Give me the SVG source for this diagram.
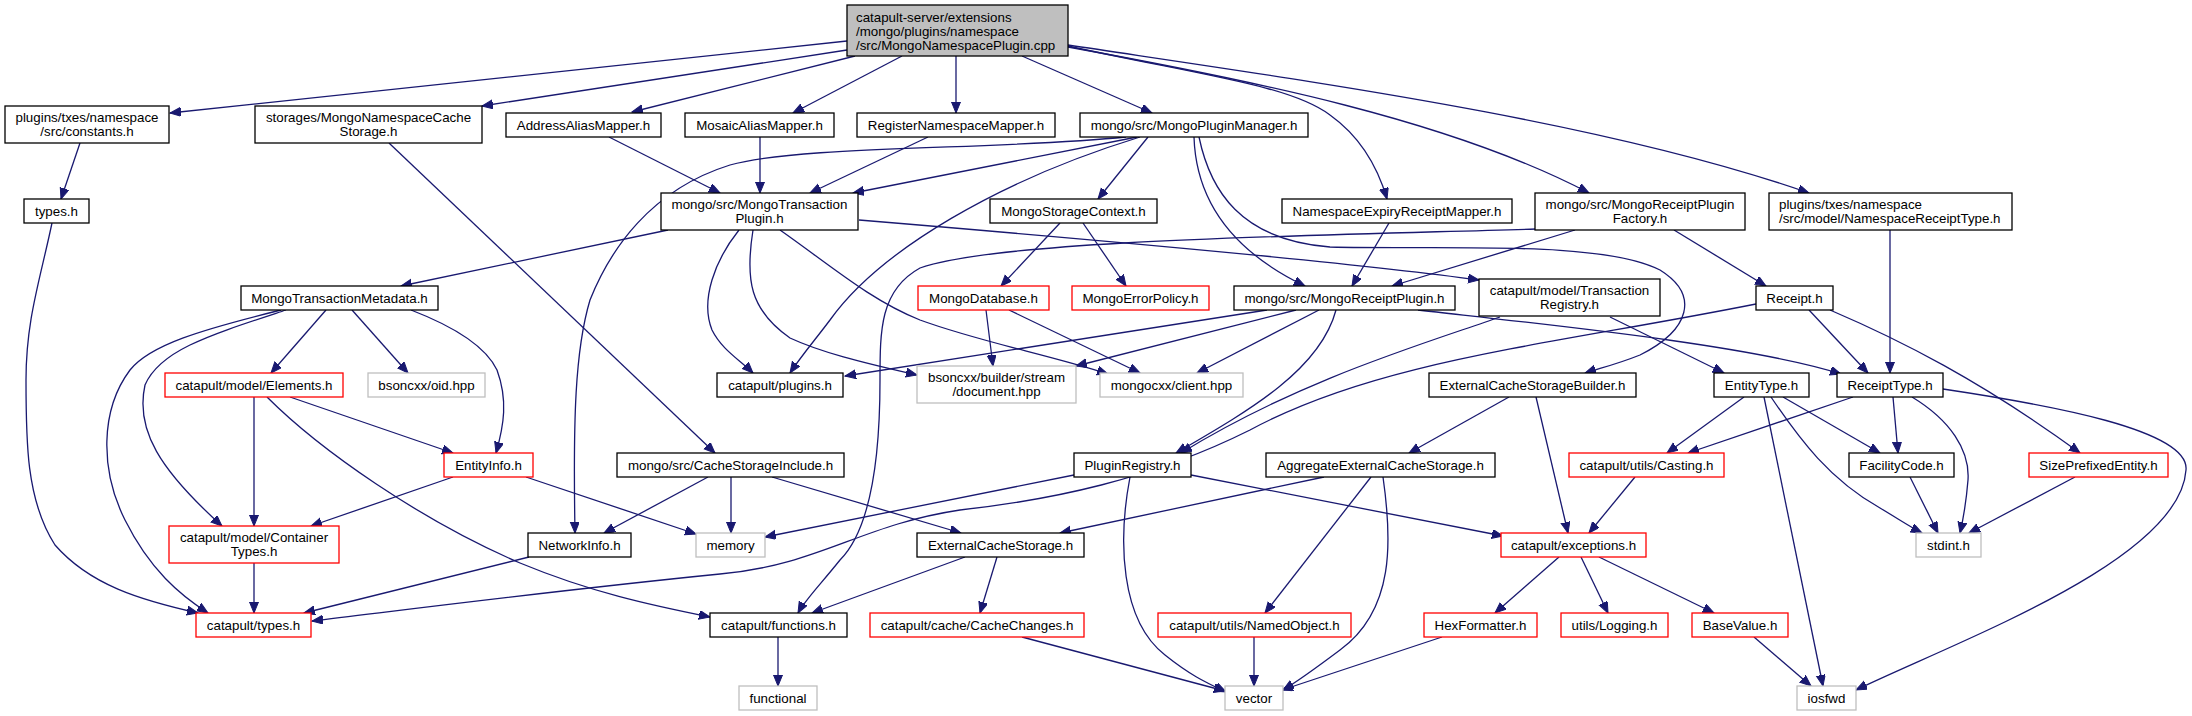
<svg xmlns="http://www.w3.org/2000/svg" width="2192" height="716" viewBox="0 0 2192 716">
<style>
.n rect{fill:#fff;stroke:#000;stroke-width:1.3}
.n.r rect{stroke:#ff0000}
.n.g rect{stroke:#bfbfbf}
.n.root rect{fill:#bfbfbf}
.n text{font-family:"Liberation Sans",Arial,sans-serif;font-size:13.33px;fill:#000;text-anchor:middle}
.n text.l{text-anchor:start}
.e path{fill:none;stroke:#191970;stroke-width:1.3;marker-end:url(#a)}
</style>
<defs>
<marker id="a" markerWidth="12" markerHeight="10" refX="11" refY="4.5" orient="auto" markerUnits="userSpaceOnUse">
<path d="M0,0 L11,4.5 L0,9 z" fill="#191970" stroke="#191970" stroke-width="1"/>
</marker>
</defs>
<rect width="2192" height="716" fill="#fff"/>
<g id="edges" class="e">
<path d="M847,41 L170,113"/>
<path d="M847,50 L482,106"/>
<path d="M855,56 L632,112"/>
<path d="M902,56 L793,113"/>
<path d="M956,56 L956,113"/>
<path d="M1022,56 L1152,113"/>
<path d="M1068,46 C1200,75 1290,85 1330,115 C1365,140 1380,175 1387,199"/>
<path d="M1068,47 C1250,80 1450,120 1589,193"/>
<path d="M1068,45 C1300,80 1600,120 1809,193"/>
<path d="M1137,137 L853,193"/>
<path d="M1126,137 C1000,150 800,145 730,165 C650,190 610,250 590,300 C575,350 573,420 575,533"/>
<path d="M1140,137 C1000,180 880,250 830,320 C815,340 802,355 790,373"/>
<path d="M1148,137 L1098,199"/>
<path d="M1194,137 C1196,200 1230,250 1305,286"/>
<path d="M1199,137 C1210,190 1240,240 1330,247 C1450,250 1600,240 1660,270 C1700,295 1690,330 1640,355 C1615,365 1600,368 1585,373"/>
<path d="M609,137 L720,193"/>
<path d="M760,137 L760,193"/>
<path d="M928,137 L810,193"/>
<path d="M668,230 L401,286"/>
<path d="M739,230 C715,260 700,300 712,330 C722,350 740,360 753,373"/>
<path d="M753,230 C745,280 750,310 790,338 C820,352 860,362 917,375"/>
<path d="M780,230 C830,265 870,300 920,320 C980,342 1050,355 1108,374"/>
<path d="M859,220 C1100,240 1350,262 1479,280"/>
<path d="M281,310 C200,330 150,345 130,370 C100,410 100,470 125,520 C150,570 180,595 208,613"/>
<path d="M286,310 C210,335 160,350 145,385 C135,430 160,470 222,526"/>
<path d="M326,310 L271,373"/>
<path d="M352,310 L408,373"/>
<path d="M411,310 C450,325 485,345 497,370 C508,400 504,425 496,453"/>
<path d="M52,223 C40,280 26,320 26,380 C26,440 26,500 55,545 C90,585 140,600 198,613"/>
<path d="M80,143 L61,199"/>
<path d="M389,143 L715,453"/>
<path d="M254,397 L254,526"/>
<path d="M290,397 L453,453"/>
<path d="M267,397 C320,450 420,520 520,563 C590,592 650,605 710,617"/>
<path d="M453,477 L311,526"/>
<path d="M526,477 L696,534"/>
<path d="M254,563 L254,613"/>
<path d="M529,557 L304,613"/>
<path d="M708,477 L604,533"/>
<path d="M731,477 L731,533"/>
<path d="M772,477 L961,533"/>
<path d="M1756,304 C1550,345 1380,360 1250,430 C1150,480 1050,500 960,510 C860,525 820,565 720,574 C560,590 420,608 312,621"/>
<path d="M1809,310 L1868,373"/>
<path d="M1830,310 C1900,340 1980,380 2080,453"/>
<path d="M1890,230 L1890,373"/>
<path d="M1536,229 C1300,236 1000,240 920,268 C880,290 880,330 880,380 C880,460 870,530 840,560 C820,585 805,600 798,613"/>
<path d="M1575,230 L1392,286"/>
<path d="M1674,230 L1766,286"/>
<path d="M1389,223 L1352,286"/>
<path d="M1060,223 L1001,286"/>
<path d="M1083,223 L1126,286"/>
<path d="M986,310 L993,366"/>
<path d="M1009,310 L1140,373"/>
<path d="M1267,310 L845,376"/>
<path d="M1296,310 L1076,366"/>
<path d="M1319,310 L1197,373"/>
<path d="M1336,310 C1320,370 1250,410 1176,453"/>
<path d="M1418,310 C1550,325 1750,345 1841,374"/>
<path d="M1500,317 C1420,345 1300,380 1181,453"/>
<path d="M1610,317 L1724,373"/>
<path d="M1509,397 L1409,453"/>
<path d="M1536,397 L1568,533"/>
<path d="M1744,397 L1667,453"/>
<path d="M1783,397 L1880,453"/>
<path d="M1771,397 C1800,440 1830,480 1880,508 C1900,520 1912,528 1922,533"/>
<path d="M1764,397 L1823,686"/>
<path d="M1853,397 L1688,453"/>
<path d="M1893,397 L1898,453"/>
<path d="M1912,397 C1950,420 1970,450 1968,480 C1966,505 1963,520 1960,533"/>
<path d="M1943,389 C2050,405 2190,430 2186,470 C2180,560 1960,640 1856,690"/>
<path d="M1635,477 L1589,533"/>
<path d="M1910,477 L1938,533"/>
<path d="M2075,477 L1969,533"/>
<path d="M1559,557 L1495,613"/>
<path d="M1581,557 L1608,613"/>
<path d="M1599,557 L1714,613"/>
<path d="M1754,637 L1811,686"/>
<path d="M1442,637 L1282,690"/>
<path d="M1074,475 L765,537"/>
<path d="M1130,477 C1118,540 1120,620 1165,655 C1190,675 1205,682 1226,692"/>
<path d="M1191,475 L1503,536"/>
<path d="M1324,477 L1060,533"/>
<path d="M1371,477 L1265,613"/>
<path d="M1383,477 C1392,540 1395,610 1340,650 C1320,665 1300,680 1283,690"/>
<path d="M965,557 L812,613"/>
<path d="M997,557 L980,613"/>
<path d="M1022,637 L1225,691"/>
<path d="M1254,637 L1254,686"/>
<path d="M778,637 L778,686"/>
</g>
<g id="root" class="n root"><rect x="847" y="5" width="221" height="51"/><text class="l" x="856" y="22">catapult-server/extensions</text><text class="l" x="856" y="36">/mongo/plugins/namespace</text><text class="l" x="856" y="50">/src/MongoNamespacePlugin.cpp</text></g>
<g id="constants" class="n"><rect x="5" y="106" width="164" height="37"/><text x="87" y="122">plugins/txes/namespace</text><text x="87" y="136">/src/constants.h</text></g>
<g id="mncs" class="n"><rect x="255" y="106" width="227" height="37"/><text x="368.5" y="122">storages/MongoNamespaceCache</text><text x="368.5" y="136">Storage.h</text></g>
<g id="addressAlias" class="n"><rect x="506" y="113" width="155" height="24"/><text x="583.5" y="129.5">AddressAliasMapper.h</text></g>
<g id="mosaicAlias" class="n"><rect x="685" y="113" width="149" height="24"/><text x="759.5" y="129.5">MosaicAliasMapper.h</text></g>
<g id="registerNs" class="n"><rect x="857" y="113" width="198" height="24"/><text x="956" y="129.5">RegisterNamespaceMapper.h</text></g>
<g id="mpm" class="n"><rect x="1080" y="113" width="228" height="24"/><text x="1194" y="129.5">mongo/src/MongoPluginManager.h</text></g>
<g id="typesLocal" class="n"><rect x="24" y="199" width="65" height="24"/><text x="56.5" y="215.5">types.h</text></g>
<g id="mtp" class="n"><rect x="661" y="193" width="197" height="37"/><text x="759.5" y="209">mongo/src/MongoTransaction</text><text x="759.5" y="223">Plugin.h</text></g>
<g id="msc" class="n"><rect x="990" y="199" width="167" height="24"/><text x="1073.5" y="215.5">MongoStorageContext.h</text></g>
<g id="nerm" class="n"><rect x="1282" y="199" width="230" height="24"/><text x="1397" y="215.5">NamespaceExpiryReceiptMapper.h</text></g>
<g id="mrpf" class="n"><rect x="1535" y="193" width="210" height="37"/><text x="1640" y="209">mongo/src/MongoReceiptPlugin</text><text x="1640" y="223">Factory.h</text></g>
<g id="nrt" class="n"><rect x="1769" y="193" width="243" height="37"/><text class="l" x="1779" y="209">plugins/txes/namespace</text><text class="l" x="1779" y="223">/src/model/NamespaceReceiptType.h</text></g>
<g id="mtm" class="n"><rect x="241" y="286" width="197" height="24"/><text x="339.5" y="302.5">MongoTransactionMetadata.h</text></g>
<g id="mongoDb" class="n r"><rect x="918" y="286" width="131" height="24"/><text x="983.5" y="302.5">MongoDatabase.h</text></g>
<g id="mongoErr" class="n r"><rect x="1072" y="286" width="137" height="24"/><text x="1140.5" y="302.5">MongoErrorPolicy.h</text></g>
<g id="mrp" class="n"><rect x="1234" y="286" width="221" height="24"/><text x="1344.5" y="302.5">mongo/src/MongoReceiptPlugin.h</text></g>
<g id="txReg" class="n"><rect x="1479" y="279" width="181" height="37"/><text x="1569.5" y="295">catapult/model/Transaction</text><text x="1569.5" y="309">Registry.h</text></g>
<g id="receipt" class="n"><rect x="1756" y="286" width="77" height="24"/><text x="1794.5" y="302.5">Receipt.h</text></g>
<g id="elements" class="n r"><rect x="165" y="373" width="178" height="24"/><text x="254" y="389.5">catapult/model/Elements.h</text></g>
<g id="oid" class="n g"><rect x="368" y="373" width="117" height="24"/><text x="426.5" y="389.5">bsoncxx/oid.hpp</text></g>
<g id="plugins" class="n"><rect x="717" y="373" width="126" height="24"/><text x="780" y="389.5">catapult/plugins.h</text></g>
<g id="document" class="n g"><rect x="917" y="366" width="159" height="37"/><text x="996.5" y="382">bsoncxx/builder/stream</text><text x="996.5" y="396">/document.hpp</text></g>
<g id="client" class="n g"><rect x="1100" y="373" width="143" height="24"/><text x="1171.5" y="389.5">mongocxx/client.hpp</text></g>
<g id="ecsb" class="n"><rect x="1429" y="373" width="207" height="24"/><text x="1532.5" y="389.5">ExternalCacheStorageBuilder.h</text></g>
<g id="entityType" class="n"><rect x="1714" y="373" width="95" height="24"/><text x="1761.5" y="389.5">EntityType.h</text></g>
<g id="receiptType" class="n"><rect x="1837" y="373" width="106" height="24"/><text x="1890" y="389.5">ReceiptType.h</text></g>
<g id="entityInfo" class="n r"><rect x="444" y="453" width="89" height="24"/><text x="488.5" y="469.5">EntityInfo.h</text></g>
<g id="csi" class="n"><rect x="617" y="453" width="227" height="24"/><text x="730.5" y="469.5">mongo/src/CacheStorageInclude.h</text></g>
<g id="pluginReg" class="n"><rect x="1074" y="453" width="117" height="24"/><text x="1132.5" y="469.5">PluginRegistry.h</text></g>
<g id="aecs" class="n"><rect x="1266" y="453" width="229" height="24"/><text x="1380.5" y="469.5">AggregateExternalCacheStorage.h</text></g>
<g id="casting" class="n r"><rect x="1569" y="453" width="155" height="24"/><text x="1646.5" y="469.5">catapult/utils/Casting.h</text></g>
<g id="facility" class="n"><rect x="1849" y="453" width="105" height="24"/><text x="1901.5" y="469.5">FacilityCode.h</text></g>
<g id="sizePrefixed" class="n r"><rect x="2029" y="453" width="139" height="24"/><text x="2098.5" y="469.5">SizePrefixedEntity.h</text></g>
<g id="containerTypes" class="n r"><rect x="169" y="526" width="170" height="37"/><text x="254" y="542">catapult/model/Container</text><text x="254" y="556">Types.h</text></g>
<g id="networkInfo" class="n"><rect x="528" y="533" width="103" height="24"/><text x="579.5" y="549.5">NetworkInfo.h</text></g>
<g id="memory" class="n g"><rect x="696" y="533" width="69" height="24"/><text x="730.5" y="549.5">memory</text></g>
<g id="ecs" class="n"><rect x="917" y="533" width="167" height="24"/><text x="1000.5" y="549.5">ExternalCacheStorage.h</text></g>
<g id="exceptions" class="n r"><rect x="1501" y="533" width="145" height="24"/><text x="1573.5" y="549.5">catapult/exceptions.h</text></g>
<g id="stdint" class="n g"><rect x="1916" y="533" width="65" height="24"/><text x="1948.5" y="549.5">stdint.h</text></g>
<g id="catTypes" class="n r"><rect x="196" y="613" width="115" height="24"/><text x="253.5" y="629.5">catapult/types.h</text></g>
<g id="functions" class="n"><rect x="710" y="613" width="137" height="24"/><text x="778.5" y="629.5">catapult/functions.h</text></g>
<g id="cacheChanges" class="n r"><rect x="870" y="613" width="214" height="24"/><text x="977" y="629.5">catapult/cache/CacheChanges.h</text></g>
<g id="namedObject" class="n r"><rect x="1158" y="613" width="193" height="24"/><text x="1254.5" y="629.5">catapult/utils/NamedObject.h</text></g>
<g id="hexFormatter" class="n r"><rect x="1424" y="613" width="113" height="24"/><text x="1480.5" y="629.5">HexFormatter.h</text></g>
<g id="logging" class="n r"><rect x="1561" y="613" width="107" height="24"/><text x="1614.5" y="629.5">utils/Logging.h</text></g>
<g id="baseValue" class="n r"><rect x="1692" y="613" width="96" height="24"/><text x="1740" y="629.5">BaseValue.h</text></g>
<g id="functional" class="n g"><rect x="739" y="686" width="78" height="24"/><text x="778" y="702.5">functional</text></g>
<g id="vector" class="n g"><rect x="1225" y="686" width="58" height="24"/><text x="1254" y="702.5">vector</text></g>
<g id="iosfwd" class="n g"><rect x="1797" y="686" width="59" height="24"/><text x="1826.5" y="702.5">iosfwd</text></g>
</svg>
